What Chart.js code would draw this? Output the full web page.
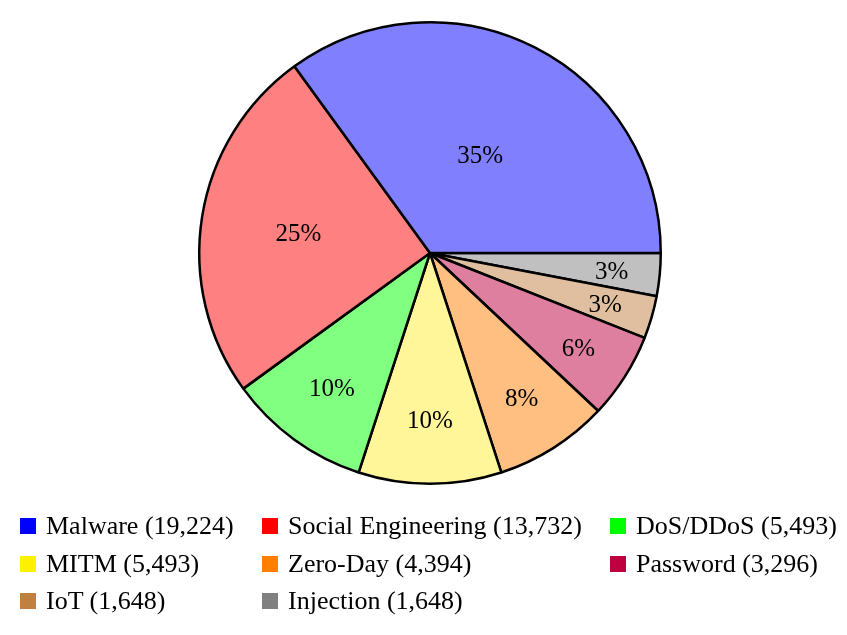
<!DOCTYPE html>
<html>
<head>
<meta charset="utf-8">
<script src="https://cdn.jsdelivr.net/npm/chart.js@4"></script>
<style>
  html, body { margin: 0; padding: 0; background: #fff; }
  body { width: 847px; height: 635px; position: relative; overflow: hidden;
         font-family: "Liberation Serif", "DejaVu Serif", serif; }
  #wrap { position: absolute; left: 0; top: 0; width: 847px; height: 506px; }
  #legend { position: absolute; left: 0; top: 0; width: 847px; height: 635px; pointer-events: none; }
  .item { position: absolute; font-size: 26px; color: #000; white-space: nowrap; line-height: 1; }
  .sw { position: absolute; width: 16px; height: 16px; }
</style>
</head>
<body>
<div id="wrap"><canvas id="pie"></canvas></div>
<div id="legend"></div>
<script>
'use strict';
// ── Données ──────────────────────────────────────────────────────────────────
const categories = ['Malware', 'Social Engineering', 'DoS/DDoS', 'MITM', 'Zero-Day', 'Password', 'IoT', 'Injection'];
const counts     = [19224, 13732, 5493, 5493, 4394, 3296, 1648, 1648];
const pctLabels  = ['35%', '25%', '10%', '10%', '8%', '6%', '3%', '3%'];
const fillColors = ['#8080ff', '#ff8080', '#80ff80', '#fff599', '#ffbf80', '#df7fa0', '#dfbf9f', '#c0c0c0'];
const keyColors  = ['#0000ff', '#ff0000', '#00ff00', '#fff000', '#ff8000', '#bf0040', '#bf8040', '#808080'];

// sens anti-horaire depuis 3h : on inverse l'ordre pour Chart.js (horaire)
const rev = a => a.slice().reverse();

// ── Étiquettes dans les parts ───────────────────────────────────────────────
const sliceLabels = {
  id: 'sliceLabels',
  afterDatasetsDraw(chart) {
    const { ctx } = chart;
    const meta = chart.getDatasetMeta(0);
    const labels = rev(pctLabels);
    ctx.save();
    ctx.font = '25px "Liberation Serif", serif';
    ctx.fillStyle = '#000';
    ctx.textAlign = 'center';
    ctx.textBaseline = 'middle';
    meta.data.forEach((arc, i) => {
      const mid = (arc.startAngle + arc.endAngle) / 2;
      const span = (arc.endAngle - arc.startAngle) * 180 / Math.PI;
      const f = 0.82 - 0.0027 * span;
      const r = arc.outerRadius * f;
      ctx.fillText(labels[i], arc.x + Math.cos(mid) * r, arc.y + Math.sin(mid) * r + 2);
    });
    ctx.restore();
  }
};

new Chart(document.getElementById('pie'), {
  type: 'pie',
  data: {
    labels: rev(categories),
    datasets: [{ data: rev(counts), backgroundColor: rev(fillColors), borderColor: '#000', borderWidth: 2.5 }],
  },
  options: {
    responsive: true, maintainAspectRatio: false, animation: false,
    rotation: 90,
    layout: { padding: { left: 13, right: 0, top: 21, bottom: 21 } },
    plugins: { legend: { display: false }, tooltip: { enabled: false } },
  },
  plugins: [sliceLabels],
});

// ── Légende HTML ─────────────────────────────────────────────────────────────
const colX = [20, 262, 610];
const rowY = [513, 551, 588];
const fmt = n => n.toLocaleString('en-US');
const leg = document.getElementById('legend');
categories.forEach((c, i) => {
  const x = colX[i % 3], y = rowY[Math.floor(i / 3)];
  leg.insertAdjacentHTML('beforeend',
    `<div class="sw" style="left:${x}px;top:${y + 5}px;background:${keyColors[i]}"></div>` +
    `<div class="item" style="left:${x + 26}px;top:${y}px">${c} (${fmt(counts[i])})</div>`);
});
</script>
</body>
</html>
